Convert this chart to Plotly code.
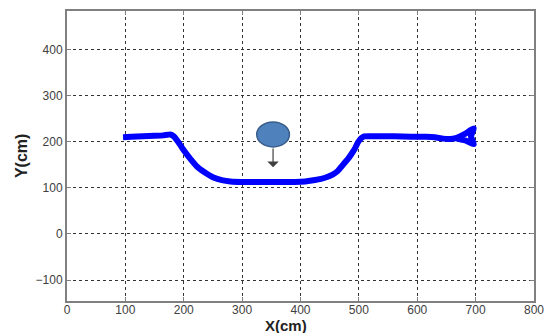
import plotly.graph_objects as go

# Trajectory (cm)
traj_x = [96, 110, 130, 150, 165, 177, 183, 188, 193, 201, 212, 223, 237, 252, 265, 280,
          300, 330, 360, 390, 408, 425, 442, 455, 464, 470, 476, 482, 487, 493, 498, 504,
          509, 530, 560, 590, 615, 630, 644, 656, 666, 680, 697, 692, 697, 682, 668]
traj_y = [210, 211, 212, 213, 214, 216, 212, 204, 195, 180, 162, 146, 133, 122, 117, 114,
          113, 113, 113, 113, 114, 117, 122, 129, 137, 146, 155, 164, 173, 185, 198, 208,
          212, 212, 212, 211, 211, 210, 207, 206, 208, 216, 229, 212, 195, 203, 207]

x_ticks = [0, 100, 200, 300, 400, 500, 600, 700, 800]
y_ticks = [-100, 0, 100, 200, 300, 400]

# Obstacle (ellipse) center / size and its motion arrow end
obs_cx, obs_cy = 353, 216
obs_w, obs_h = 56, 54
arrow_end_y = 145

fig = go.Figure()
fig.add_trace(go.Scatter(x=traj_x, y=traj_y, mode="lines",
                         line=dict(color="#0000FF", width=6, shape="spline", smoothing=0.4),
                         hoverinfo="skip", showlegend=False))

fig.add_shape(type="circle", xref="x", yref="y",
              x0=obs_cx - obs_w / 2, x1=obs_cx + obs_w / 2,
              y0=obs_cy - obs_h / 2, y1=obs_cy + obs_h / 2,
              fillcolor="#4F81BD", line=dict(color="#385D8A", width=1.5))

fig.add_annotation(x=obs_cx, y=arrow_end_y, ax=obs_cx, ay=obs_cy - obs_h / 2,
                   xref="x", yref="y", axref="x", ayref="y",
                   text="", showarrow=True, arrowhead=1, arrowsize=1.6,
                   arrowwidth=1.2, arrowcolor="#404040")

axis_common = dict(showgrid=True, gridcolor="#333333", griddash="dot", gridwidth=1,
                   showline=True, linecolor="#808080", linewidth=2, mirror="ticks",
                   ticks="inside", ticklen=4, tickcolor="#808080", zeroline=False,
                   tickfont=dict(family="Liberation Sans, Arial", size=12, color="#404040"))

fig.update_xaxes(range=[0, 800], tickvals=x_ticks, ticklabelstandoff=-3, **axis_common)
fig.update_yaxes(range=[-145.5, 484], tickvals=y_ticks, **axis_common)

fig.add_annotation(text="<b>X(cm)</b>", xref="x", yref="paper", x=375, y=0,
                   yshift=-24, yanchor="middle", showarrow=False,
                   font=dict(family="Liberation Sans, Arial", size=15, color="#222222"))
fig.add_annotation(text="<b>Y(cm)</b>", xref="paper", yref="y", x=0, y=169,
                   xshift=-46, xanchor="center", textangle=-90, showarrow=False,
                   font=dict(family="Liberation Sans, Arial", size=16, color="#222222"))

fig.update_layout(width=553, height=333, margin=dict(l=67, r=10, t=9, b=32),
                  plot_bgcolor="white", paper_bgcolor="white")

fig.write_html("out.html", config={"displayModeBar": False},
               post_script="document.body.style.margin='0';document.body.style.overflow='hidden';")
